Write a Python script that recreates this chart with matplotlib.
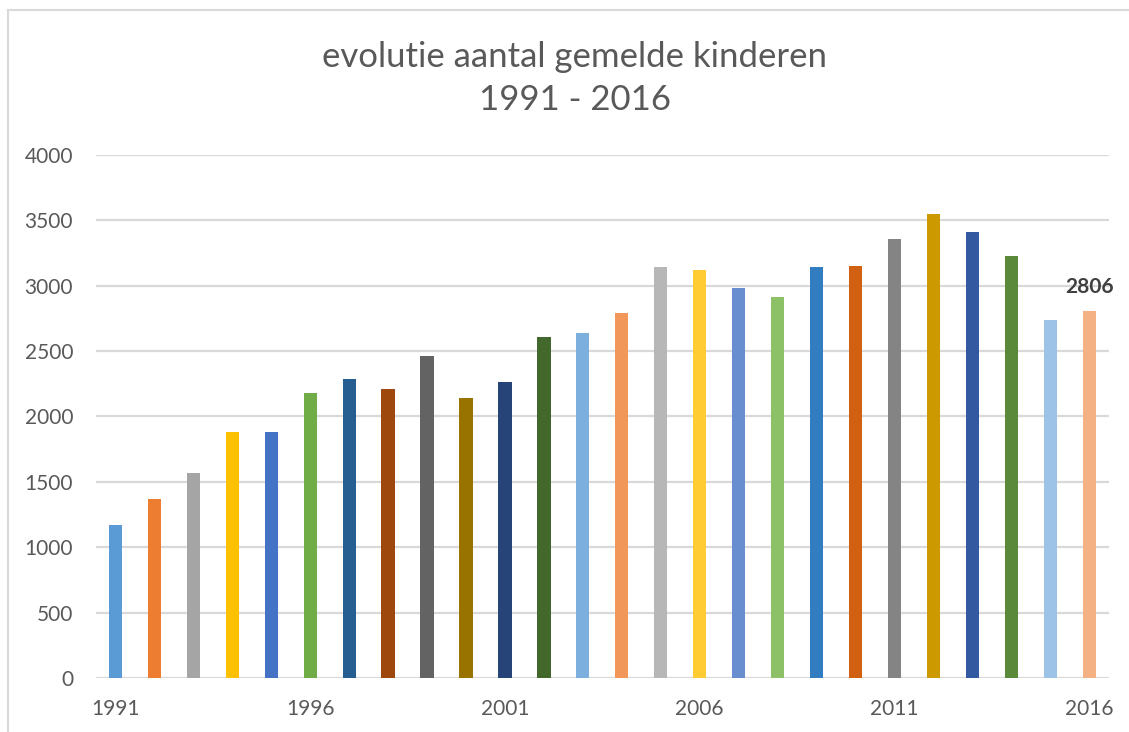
import matplotlib.pyplot as plt
from matplotlib.lines import Line2D

years = list(range(1991, 2017))
values = [1170, 1370, 1570, 1885, 1885, 2180, 2287, 2213, 2465, 2145,
          2267, 2610, 2641, 2794, 3145, 3122, 2984, 2915, 3144, 3152,
          3358, 3550, 3412, 3228, 2739, 2806]
colors = ['#5B9BD5', '#ED7D31', '#A5A5A5', '#FFC000', '#4472C4', '#70AD47',
          '#255E91', '#9E480E', '#636363', '#997300', '#264478', '#43682B',
          '#7CAFDD', '#F1975A', '#B7B7B7', '#FFCD33', '#698ED0', '#8CC168',
          '#327DC2', '#D26012', '#848484', '#CC9A00', '#335AA1', '#5A8A39',
          '#9DC3E6', '#F4B183']
tick_years = [1991, 1996, 2001, 2006, 2011, 2016]

plt.rcParams['font.family'] = ['Lato', 'DejaVu Sans']

fig = plt.figure(figsize=(11.29, 7.32), dpi=100)
ax = fig.add_axes([0.085, 0.0738, 0.897, 0.7145])

x = list(range(len(years)))
ax.bar(x, values, width=0.34, color=colors, zorder=3)

ax.set_xlim(-0.5, len(years) - 0.5)
ax.set_ylim(0, 4000)
ax.set_yticks(range(0, 4001, 500))
ax.set_xticks([years.index(y) for y in tick_years])
ax.set_xticklabels([str(y) for y in tick_years])
ax.tick_params(axis='both', length=0, labelsize=15, colors='#595959')
ax.tick_params(axis='y', pad=16.5)
ax.tick_params(axis='x', pad=15)
ax.grid(axis='y', color='#D9D9D9', linewidth=1.6, zorder=0)
for s in ax.spines.values():
    s.set_visible(False)

ax.annotate(str(values[-1]), (x[-1], values[-1]), xytext=(0, 10),
            textcoords='offset points', ha='center', va='bottom',
            fontsize=15, fontweight='bold', color='#404040')

fig.text(0.509, 0.922, 'evolutie aantal gemelde kinderen', ha='center',
         va='center', fontsize=25, color='#595959')
fig.text(0.509, 0.863, '1991 - 2016', ha='center', va='center',
         fontsize=25, color='#595959')

# chart border (left and top edges visible)
fig.add_artist(Line2D([0.007, 0.007], [0, 0.986], color='#D9D9D9', lw=1.5,
                      transform=fig.transFigure))
fig.add_artist(Line2D([0.007, 1.0], [0.986, 0.986], color='#D9D9D9', lw=1.5,
                      transform=fig.transFigure))

fig.savefig('out.png', dpi=100)
